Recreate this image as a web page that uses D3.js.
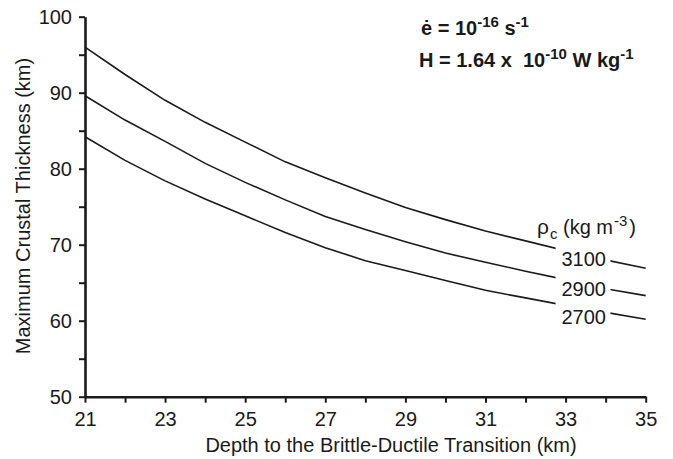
<!DOCTYPE html>
<html lang="en">
<head>
<meta charset="UTF-8">
<title>Maximum crustal thickness vs depth to brittle-ductile transition</title>
<script src="https://d3js.org/d3.v7.min.js"></script>
<style>
    body { margin: 0; background: #fff; }
    svg { font-family: "Liberation Sans", Arial, sans-serif; }
    .axis path, .axis line { stroke: #1a1a1a; }
    .axis path { stroke-width: 2.6; }
    .axis line { stroke-width: 2; }
    .axis text { font-size: 20px; fill: #1a1a1a; }
    .curve { fill: none; stroke: #1a1a1a; stroke-width: 1.6; }
    .label { font-size: 20px; fill: #1a1a1a; white-space: pre; }
    .note { font-size: 20px; font-weight: bold; fill: #1a1a1a; white-space: pre; }
</style>
</head>
<body>
<svg width="673" height="459"></svg>
<script>
// depth to brittle-ductile transition (km)
const depth = [21, 22, 23, 24, 25, 26, 27, 28, 29, 30, 31, 32, 33, 34, 35];
// max crustal thickness (km) for each crustal density
const rho3100 = [96.0, 92.4, 89.0, 86.1, 83.5, 80.9, 78.8, 76.8, 74.9, 73.3, 71.8, 70.5, 69.2, 68.0, 66.9];
const rho2900 = [89.6, 86.4, 83.6, 80.7, 78.2, 75.9, 73.7, 72.0, 70.4, 68.9, 67.7, 66.5, 65.4, 64.2, 63.3];
const rho2700 = [84.2, 81.1, 78.4, 76.0, 73.8, 71.6, 69.6, 67.9, 66.6, 65.3, 64.0, 63.0, 62.0, 61.1, 60.2];
const densities = ["3100", "2900", "2700"];
const xTickLabels = [21, 23, 25, 27, 29, 31, 33, 35];
const yTickLabels = [50, 60, 70, 80, 90, 100];

const series = [rho3100, rho2900, rho2700];

const margin = {top: 16.7, right: 27.3, bottom: 62.3, left: 85};
const W = 673, H = 459;
const svg = d3.select("svg");

const x = d3.scaleLinear().domain([21, 35]).range([margin.left, W - margin.right]);
const y = d3.scaleLinear().domain([50, 100]).range([H - margin.bottom, margin.top]);

// gap in the curves where the density labels sit
const gapFrom = 32.75, gapTo = 34.12;
const defs = svg.append("defs");
defs.append("clipPath").attr("id", "left")
    .append("rect").attr("x", 0).attr("y", 0).attr("width", x(gapFrom)).attr("height", H);
defs.append("clipPath").attr("id", "right")
    .append("rect").attr("x", x(gapTo)).attr("y", 0).attr("width", W - x(gapTo)).attr("height", H);

const line = d3.line()
    .x((d, i) => x(depth[i]))
    .y(d => y(d));

series.forEach(s => {
    ["left", "right"].forEach(c => {
        svg.append("path")
            .attr("class", "curve")
            .attr("clip-path", `url(#${c})`)
            .attr("d", line(s));
    });
});

// axes
svg.append("g")
    .attr("class", "axis")
    .attr("transform", `translate(0,${y(50)})`)
    .call(d3.axisBottom(x)
        .tickValues(d3.range(21, 36, 1))
        .tickFormat(d => xTickLabels.includes(d) ? d : "")
        .tickSize(6).tickSizeOuter(0).tickPadding(9));

svg.append("g")
    .attr("class", "axis")
    .attr("transform", `translate(${x(21)},0)`)
    .call(d3.axisLeft(y)
        .tickValues(d3.range(50, 101, 5))
        .tickFormat(d => yTickLabels.includes(d) ? d : "")
        .tickSize(6).tickSizeOuter(0).tickPadding(7));

// axis titles
svg.append("text")
    .attr("class", "label")
    .attr("text-anchor", "middle")
    .attr("x", 391)
    .attr("y", 452)
    .text("Depth to the Brittle-Ductile Transition (km)");

svg.append("text")
    .attr("class", "label")
    .attr("text-anchor", "middle")
    .attr("transform", "translate(30,206) rotate(-90)")
    .text("Maximum Crustal Thickness (km)");

// density labels in the gap
series.forEach((s, i) => {
    svg.append("text")
        .attr("class", "label")
        .attr("text-anchor", "end")
        .attr("x", 606)
        .attr("y", y(s[depth.indexOf(33)]) + 15 + i * 1.5)
        .text(densities[i]);
});

const legendTitle = svg.append("text").attr("class", "label")
    .attr("x", 537).attr("y", 234);
legendTitle.append("tspan").attr("font-size", 21).text("ρ");
legendTitle.append("tspan").attr("font-size", 15).attr("dx", 1).attr("dy", 5).text("c");
legendTitle.append("tspan").attr("dy", -5).text(" (kg m");
legendTitle.append("tspan").attr("font-size", 15).attr("dx", 1).attr("dy", -8).text("-3");
legendTitle.append("tspan").attr("dx", 2).attr("dy", 8).text(")");

// parameter notes
const n1 = svg.append("text").attr("class", "note").attr("x", 421).attr("y", 35);
n1.append("tspan").text("ė = 10");
n1.append("tspan").attr("font-size", 15).attr("dy", -8).text("-16");
n1.append("tspan").attr("dy", 8).text(" s");
n1.append("tspan").attr("font-size", 15).attr("dy", -8).text("-1");

const n2 = svg.append("text").attr("class", "note").attr("x", 419).attr("y", 67);
n2.append("tspan").text("H = 1.64 x  10");
n2.append("tspan").attr("font-size", 15).attr("dy", -8).text("-10");
n2.append("tspan").attr("dy", 8).text(" W kg");
n2.append("tspan").attr("font-size", 15).attr("dy", -8).text("-1");
</script>
</body>
</html>
